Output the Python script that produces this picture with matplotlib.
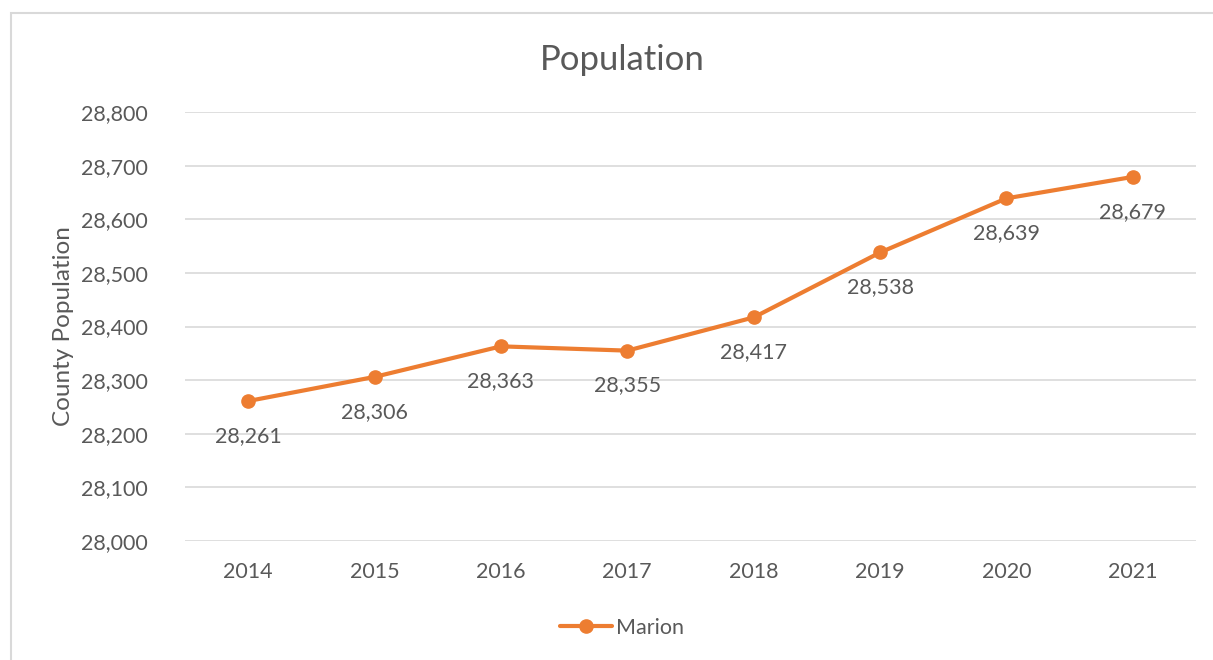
import matplotlib.pyplot as plt
from matplotlib.patches import Rectangle
from matplotlib.ticker import FuncFormatter

# Marion county population by year
anios = ['2014', '2015', '2016', '2017', '2018', '2019', '2020', '2021']
poblacion = [28261, 28306, 28363, 28355, 28417, 28538, 28639, 28679]

naranja = '#ED7D31'
gris_texto = '#595959'
gris_rejilla = '#D9D9D9'

plt.rcParams['font.family'] = ['Lato', 'DejaVu Sans']

fig = plt.figure(figsize=(12.13, 6.6), dpi=100)
ax = fig.add_axes([0.1525, 0.1803, 0.8335, 0.65])

x = list(range(len(anios)))
ax.plot(x, poblacion, color=naranja, lw=3, marker='o', ms=9.5,
        solid_capstyle='round', label='Marion', zorder=3)

for xi, v in zip(x, poblacion):
    ax.annotate(f'{v:,}', (xi, v), xytext=(0, -25), textcoords='offset points',
                ha='center', va='center', fontsize=15.5, color=gris_texto)

ax.set_xlim(-0.5, len(anios) - 0.5)
ax.set_ylim(28000, 28800)
ax.set_yticks(range(28000, 28801, 100))
ax.yaxis.set_major_formatter(FuncFormatter(lambda v, p: f'{int(v):,}'))
ax.set_xticks(x)
ax.set_xticklabels(anios)
ax.tick_params(length=0, labelsize=15.5, colors=gris_texto)
ax.tick_params(axis='x', pad=15)
ax.tick_params(axis='y', pad=27)
ax.grid(axis='y', color=gris_rejilla, lw=1.2)
ax.set_axisbelow(True)
for s in ax.spines.values():
    s.set_visible(False)

ax.set_ylabel('County Population', fontsize=17.5, color=gris_texto, labelpad=5)
fig.text(0.513, 0.909, 'Population', ha='center', va='center',
         fontsize=25, color=gris_texto)

leg = fig.legend(loc='center', bbox_to_anchor=(0.513, 0.049), frameon=False,
                 fontsize=15.5, handlelength=2.4, handletextpad=0.2)
for t in leg.get_texts():
    t.set_color(gris_texto)

# marco del gráfico
fig.patches.append(Rectangle((11 / 1213, -0.1), 1.2, 1 - 13 / 660 + 0.1,
                             transform=fig.transFigure, fill=False,
                             edgecolor=gris_rejilla, lw=1.5))

fig.savefig('out.png', dpi=100)
